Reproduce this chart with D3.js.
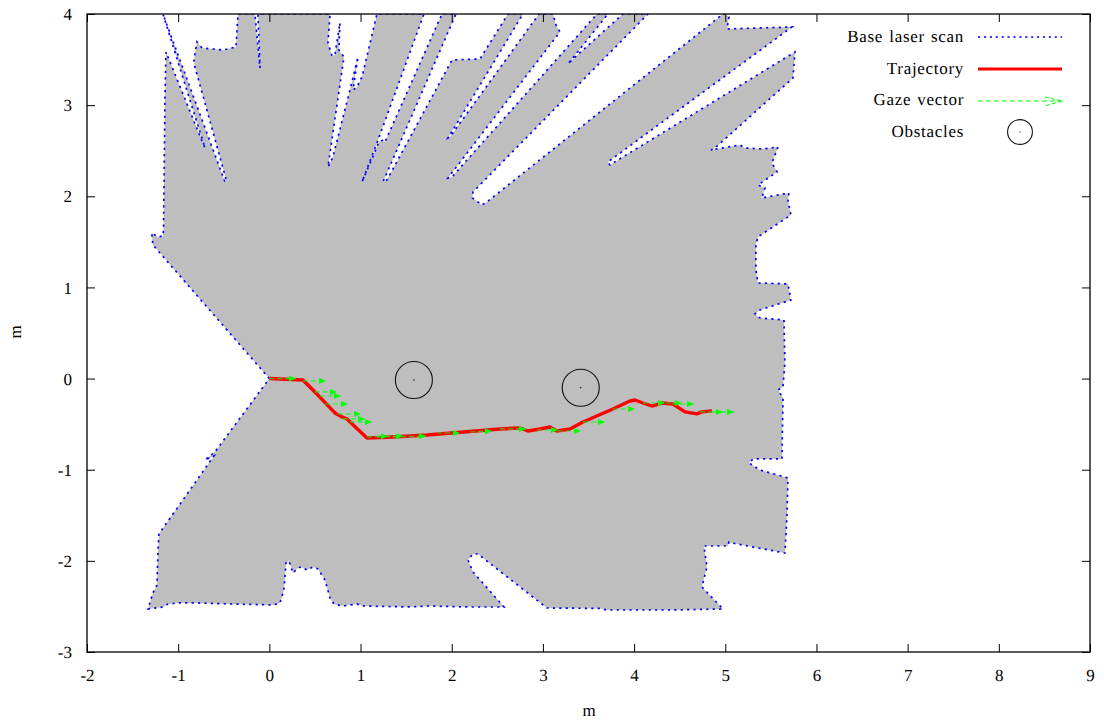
<!DOCTYPE html>
<html>
<head>
<meta charset="utf-8">
<script src="https://cdnjs.cloudflare.com/ajax/libs/d3/7.8.5/d3.min.js"></script>
<style>
html,body{margin:0;padding:0;background:#fff}
svg{display:block}
text{font-family:"Liberation Serif",serif;font-size:17px;fill:#000;text-rendering:geometricPrecision}
</style>
</head>
<body>
<svg id="c" width="1104" height="725"></svg>
<script>
const xTicks = [-2,-1,0,1,2,3,4,5,6,7,8,9];
const yTicks = [-3,-2,-1,0,1,2,3,4];
const xLabel = "m", yLabel = "m";
const legendLabels = ["Base laser scan","Trajectory","Gaze vector","Obstacles"];

const scanX = [0,-1.277,-1.291,-1.222,-1.167,-1.161,-1.145,-1.134,-.739,-.706,-1.167,-.487,-.470,-.816,-.827,-.794,-.739,-.509,-.366,-.344,-.158,-.103,-.125,.665,.643,.687,.719,.774,.763,.818,.643,.697,.884,.972,.917,.961,1.016,1.180,1.695,1.180,1.016,1.202,1.246,1.268,1.893,2.046,1.246,1.290,2.003,2.310,2.617,2.781,1.959,1.981,2.957,3.110,3.143,3.187,1.959,2.003,3.593,3.713,3.275,3.319,3.878,4.152,2.233,2.227,2.332,2.386,4.975,4.997,5.040,5.019,5.731,3.713,3.735,5.764,5.742,4.887,4.843,5.161,5.216,5.413,5.578,5.512,5.567,5.358,5.435,5.402,5.698,5.687,5.720,5.358,5.336,5.336,5.358,5.687,5.720,5.380,5.326,5.380,5.644,5.654,5.633,5.578,5.633,5.622,5.304,5.260,5.380,5.687,5.676,5.654,5.073,5.040,5.029,4.766,4.799,4.744,4.975,4.393,3.702,3.626,3.044,2.288,2.233,2.178,2.233,2.573,2.178,1.761,1.542,1.027,.961,.807,.708,.665,.610,.533,.478,.412,.347,.314,.259,.215,.182,.160,.116,.039,-.432,-.783,-1.002,-1.112,-1.167,-1.331,-1.277,-1.233,-1.222,-1.211,-.608,-.706,-.597,0];
const scanY = [0,1.466,1.598,1.554,1.565,1.630,3.057,3.583,2.607,2.530,4,2.157,2.168,3.419,3.496,3.693,3.627,3.605,3.638,4,4,3.408,4,4,3.682,3.540,3.551,3.902,3.605,3.529,2.322,2.431,3.167,3.529,3.167,3.199,3.309,4,4,2.585,2.157,2.596,2.618,2.596,4,4,2.157,2.179,3.496,3.507,4,4,2.640,2.651,4,4,3.880,3.803,2.201,2.212,4,4,3.452,3.496,4,4,2.047,1.982,1.905,1.938,4,4,3.968,3.836,3.858,2.377,2.344,3.583,3.298,2.530,2.508,2.563,2.530,2.519,2.541,2.366,2.267,2.124,2.091,1.982,2.036,1.960,1.795,1.554,1.466,1.192,1.049,1.038,.862,.753,.709,.665,.643,.171,-.092,-.125,-.213,-.882,-.882,-.926,-1.003,-1.091,-1.519,-1.914,-1.804,-1.793,-1.837,-1.837,-2.067,-2.287,-2.528,-2.539,-2.539,-2.522,-2.517,-1.925,-1.925,-1.990,-2.122,-2.506,-2.506,-2.495,-2.506,-2.495,-2.473,-2.495,-2.473,-2.407,-2.210,-2.089,-2.067,-2.100,-2.067,-2.078,-2.133,-2.001,-2.023,-2.319,-2.462,-2.484,-2.473,-2.462,-2.462,-2.473,-2.506,-2.528,-2.352,-2.265,-1.914,-1.705,-.849,-.893,-.805,0];

const trajX = [0,.368,.500,.719,.796,.851,1.070,1.356,1.728,2.529,2.748,2.836,2.968,3.077,3.154,3.297,3.439,3.768,3.955,4.010,4.097,4.196,4.306,4.426,4.558,4.689,4.744,4.854];
const trajY = [0,-.015,-.147,-.377,-.421,-.443,-.652,-.641,-.619,-.553,-.542,-.575,-.553,-.531,-.575,-.553,-.476,-.334,-.246,-.235,-.268,-.301,-.268,-.279,-.366,-.388,-.366,-.355];

const gazeX  = [0,.368,.500,.555,.610,.752,.807,.884,1.070,1.180,1.356,1.838,2.200,2.529,2.935,3.165,3.439,3.768,4.097,4.262,4.416,4.723,4.865];
const gazeY  = [0,-.026,-.147,-.191,-.279,-.388,-.443,-.476,-.641,-.641,-.641,-.597,-.586,-.553,-.564,-.575,-.476,-.334,-.268,-.268,-.279,-.366,-.366];
const gazeDX = [.29,.252,.241,.23,.252,.252,.241,.241,.23,.285,.362,.252,.241,.285,.23,.252,.241,.241,.241,.263,.241,.252,.23];
const gazeDY = [0,0,0,0,0,0,0,0,.01,.01,.01,0,.01,0,0,0,0,0,0,0,0,0,0];

const obstacleX = [1.585,3.415];
const obstacleY = [-.015,-.100];
const obstacleR = .203;

const svg = d3.select("#c");
const x = d3.scaleLinear().domain([-2,9]).range([87,1090]);
const y = d3.scaleLinear().domain([-3,4]).range([652,14]);

svg.append("defs").append("clipPath").attr("id","plot").append("rect")
  .attr("x",87).attr("y",14).attr("width",1003).attr("height",638);
const mk = svg.select("defs").append("marker").attr("id","head")
  .attr("viewBox","0 0 7 6").attr("refX",7).attr("refY",3)
  .attr("markerWidth",7).attr("markerHeight",6).attr("markerUnits","userSpaceOnUse").attr("orient","auto");
mk.append("path").attr("d","M0,0L7,3L0,6Z").attr("fill","#00ff00");

const plot = svg.append("g").attr("clip-path","url(#plot)");
const scanPts = scanX.map((d,i)=>[d,scanY[i]]);
const trajPts = trajX.map((d,i)=>[d,trajY[i]]);
const line = d3.line().x(d=>x(d[0])).y(d=>y(d[1]));

plot.append("path").attr("d",line(scanPts)).attr("fill","#bebebe").attr("stroke","none");
plot.append("path").attr("d",line(scanPts)).attr("fill","none")
  .attr("stroke","#0000ff").attr("stroke-width",1.7).attr("stroke-dasharray","2.2 4.2");
plot.append("path").attr("d",line(trajPts)).attr("fill","none")
  .attr("stroke","#ff0000").attr("stroke-width",3.4).attr("stroke-linejoin","round");

plot.append("g").selectAll("line").data(gazeX).join("line")
  .attr("x1",d=>x(d)).attr("y1",(d,i)=>y(gazeY[i]))
  .attr("x2",(d,i)=>x(d+gazeDX[i])).attr("y2",(d,i)=>y(gazeY[i]+gazeDY[i]))
  .attr("stroke","#00ff00").attr("stroke-width",1.2).attr("stroke-dasharray","5 3")
  .attr("stroke-opacity",.8)
  .attr("marker-end","url(#head)");

const obs = plot.append("g");
obs.selectAll("circle.o").data(obstacleX).join("circle").attr("class","o")
  .attr("cx",d=>x(d)).attr("cy",(d,i)=>y(obstacleY[i])).attr("r",x(obstacleR)-x(0))
  .attr("fill","none").attr("stroke","#111").attr("stroke-width",1.1);
obs.selectAll("rect.c").data(obstacleX).join("rect").attr("class","c")
  .attr("x",d=>x(d)-.6).attr("y",(d,i)=>y(obstacleY[i])-.6).attr("width",1.2).attr("height",1.2).attr("fill","#000");

// axes
const fmt = d=>d3.format("d")(d).replace("\u2212","-");
const gx = svg.append("g").attr("transform","translate(0,652)").call(
  d3.axisBottom(x).tickValues(xTicks).tickSizeInner(-8).tickSizeOuter(0).tickPadding(0).tickFormat(fmt));
gx.selectAll("text").attr("y",23).attr("dy",".35em");
const gy = svg.append("g").attr("transform","translate(87,0)").call(
  d3.axisLeft(y).tickValues(yTicks).tickSizeInner(-8).tickSizeOuter(0).tickPadding(0).tickFormat(fmt));
gy.selectAll("text").attr("x",-15).attr("dy",".33em");
svg.append("g").attr("transform","translate(0,14)").call(
  d3.axisTop(x).tickValues(xTicks).tickSizeInner(-8).tickSizeOuter(0).tickFormat(""));
svg.append("g").attr("transform","translate(1090,0)").call(
  d3.axisRight(y).tickValues(yTicks).tickSizeInner(-8).tickSizeOuter(0).tickFormat(""));
svg.selectAll(".domain").remove();
svg.selectAll(".tick line").attr("stroke","#000").attr("stroke-width",1);
svg.selectAll(".tick text").attr("font-family","Liberation Serif").style("font-size","17px");
svg.append("rect").attr("x",87).attr("y",14).attr("width",1003).attr("height",638)
  .attr("fill","none").attr("stroke","#000").attr("stroke-width",1.3);

svg.append("text").attr("x",589).attr("y",716).attr("text-anchor","middle").text(xLabel);
svg.append("text").attr("transform","translate(21,332) rotate(-90)").attr("text-anchor","middle").text(yLabel);

// legend
const legY = [37,69,101,132];
const legBase = [42,74,105,137];
const lg = svg.append("g");
lg.selectAll("text").data(legendLabels).join("text")
  .attr("x",964).attr("y",(d,i)=>legBase[i]).attr("text-anchor","end")
  .attr("letter-spacing","0.7px").attr("word-spacing","1.2px").text(d=>d);
lg.append("line").attr("x1",978).attr("x2",1062).attr("y1",legY[0]).attr("y2",legY[0])
  .attr("stroke","#0000ff").attr("stroke-width",1.5).attr("stroke-dasharray","2.2 3.7");
lg.append("line").attr("x1",978).attr("x2",1062).attr("y1",legY[1]).attr("y2",legY[1])
  .attr("stroke","#ff0000").attr("stroke-width",3);
lg.append("line").attr("x1",978).attr("x2",1062).attr("y1",legY[2]).attr("y2",legY[2])
  .attr("stroke","#00ff00").attr("stroke-width",1.2).attr("stroke-dasharray","5 3");
lg.append("path").attr("d",d3.line()([[1045,97],[1062,101],[1045,106]]))
  .attr("fill","none").attr("stroke","#00ff00").attr("stroke-width",1).attr("stroke-dasharray","4 2");
lg.append("circle").attr("cx",1020).attr("cy",legY[3]).attr("r",12.4)
  .attr("fill","none").attr("stroke","#111").attr("stroke-width",1.1);
lg.append("rect").attr("x",1019.6).attr("y",legY[3]-.5).attr("width",1).attr("height",1).attr("fill","#000");
</script>
</body>
</html>
